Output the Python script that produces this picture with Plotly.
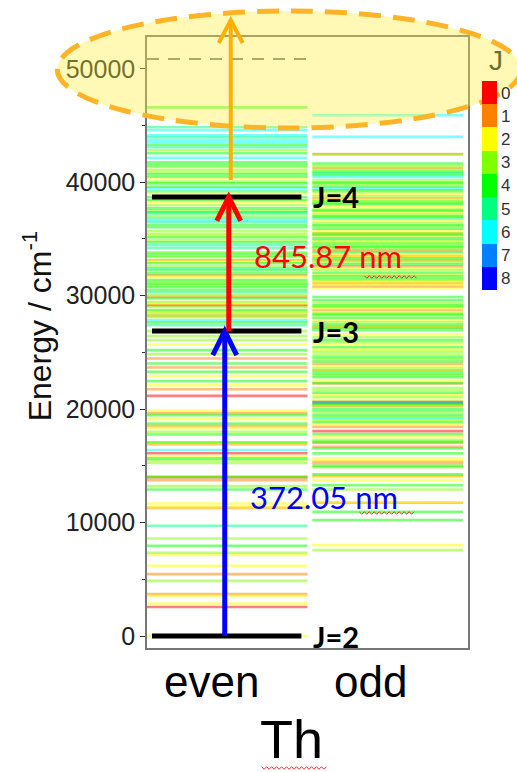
import plotly.graph_objects as go

# ---------------------------------------------------------------- data
# Th I energy levels (cm^-1) and total angular momentum J, by parity
EVEN_E = [0, 2558, 2869, 3550, 3700, 4870, 5460, 6190, 7140, 7340, 7960, 8600,
          9720, 11300, 11350, 11690, 12925, 13215, 13745, 14000, 14035, 14080,
          15270, 15505, 15660, 15860, 16120, 16390, 16920, 17000, 17090, 17770,
          18000, 18350, 18530, 18740, 19120, 19470, 19650, 19850,
          21170, 21760, 22110, 22470, 22910, 23290, 23670, 24030, 24470, 24850,
          25200, 25700, 26080, 26450, 26878,
          27400, 27650, 27840, 28110, 28250, 28430, 28600, 28720, 28990, 29160,
          29300, 29430, 29780, 29900, 30040, 30300, 30500, 30750, 30900, 31050,
          31200, 31370, 31630, 31800, 31980, 32250, 32420, 32600, 32860, 33000,
          33130, 33390, 33550, 33700, 33830, 34190, 34450, 34700, 34900, 35150,
          35300, 35450, 35700, 36040, 36200, 36480, 36650, 36850, 37050, 37270,
          37350, 37500, 37700, 37970, 38270, 38450, 38700, 39030, 39200, 39470,
          39600, 39900, 40050, 40350, 40500, 40700, 40880, 41060, 41320, 41500,
          41600, 41760, 42150, 42550, 42820, 43080, 43300, 43520, 43700, 43950,
          44140, 44580, 44840, 46600]
EVEN_J = [2, 0, 2, 2, 1, 3, 1, 2, 2, 3, 4, 3,
          5, 1, 2, 2, 4, 3, 1, 0, 4, 2,
          3, 3, 4, 2, 0, 6, 1, 2, 4, 4,
          3, 2, 1, 4, 2, 4, 1, 2,
          0, 1, 2, 4, 2, 4, 1, 4, 1, 3,
          4, 2, 3, 3, 3,
          5, 4, 6, 3, 1, 3, 2, 4, 3, 0,
          2, 3, 4, 1, 3, 5, 4, 4, 3, 4,
          3, 4, 2, 1, 4, 4, 5, 3, 4, 2,
          1, 3, 4, 4, 3, 5, 5, 4, 3, 4,
          2, 3, 3, 4, 4, 5, 6, 5, 3, 5,
          4, 3, 4, 3, 2, 4, 4, 2, 5, 6,
          4, 4, 3, 2, 4, 4, 3, 3, 3, 4,
          4, 4, 6, 4, 3, 5, 4, 6, 6, 5,
          6, 6, 5, 4]

ODD_E = [7577, 8020, 10220, 10950, 11745, 11800, 12925, 13300, 13745, 14040,
         14100, 14250, 14890, 15000, 15240, 15360, 15505, 15660, 16100, 16535,
         16680, 17030, 17120, 17270, 17530, 17800, 18060, 18440, 18680, 18880,
         19030, 19180, 19300, 19470, 19710, 19900, 20000, 20260, 20350, 20440,
         20480, 20620, 20640, 20800, 21060, 21250, 21450, 21670, 22260, 22300,
         22820, 23000, 23400, 23450, 23800, 24200, 24580, 24800, 25050, 25460,
         25700, 25900, 26100, 26340, 26600, 26960, 27220, 27250, 27450, 27660,
         27850, 28050, 28280, 28500, 28720, 28850, 28990, 29150, 29340, 29600,
         29870, 30660, 30800, 30950, 31100, 31370, 31550, 31800, 32000, 32250,
         32400, 32600, 32750, 32900, 33120, 33300, 33500, 33650, 33850, 34000,
         34160, 34400, 34600, 34890, 35050, 35250, 35480, 35500, 35700, 35900,
         36210, 36400, 36600, 36800, 37000, 37200, 37390, 37600, 37800, 38060,
         38300, 38560, 38750, 38940, 39150, 39440, 39600, 39800, 39940, 40200,
         40470, 40650, 40910, 41260, 41450, 41650, 42470, 42480, 44000, 45900,
         21850, 22500, 23150, 23600, 24000, 24400, 25250, 27050, 28400, 29000,
         31250, 31700, 33000, 33400, 34300, 34750, 35350, 36100, 36950, 37500,
         38150, 38450, 39300, 40050, 40800, 41100]
ODD_J = [3, 2, 4, 4, 1, 2, 3, 4, 2, 2,
         1, 4, 3, 4, 1, 1, 2, 2, 4, 4,
         1, 1, 4, 3, 2, 4, 0, 1, 2, 4,
         2, 6, 3, 4, 3, 4, 4, 1, 3, 1,
         4, 7, 1, 2, 3, 2, 4, 3, 1, 4,
         4, 3, 1, 3, 2, 4, 4, 3, 3, 4,
         2, 3, 4, 3, 2, 4, 1, 3, 4, 3,
         2, 4, 3, 2, 1, 2, 2, 4, 3, 4,
         4, 2, 1, 2, 1, 3, 4, 2, 4, 3,
         2, 1, 4, 3, 1, 4, 1, 2, 4, 1,
         3, 3, 4, 3, 4, 2, 1, 3, 2, 4,
         4, 3, 2, 5, 4, 3, 2, 3, 2, 4,
         4, 1, 3, 2, 3, 6, 4, 3, 4, 3,
         6, 4, 4, 1, 3, 4, 3, 1, 6, 6,
         3, 2, 4, 3, 1, 3, 2, 4, 4, 3,
         2, 4, 3, 2, 4, 2, 4, 3, 3, 4,
         3, 2, 4, 3, 5, 3]

J_VALUES = list(range(9))
J_COLORS = ["#FF0000", "#FF8000", "#FFFF00", "#80FF00", "#00FF00",
            "#00FF80", "#00FFFF", "#0080FF", "#0000FF"]

# three-step excitation scheme
LAMBDA_1_NM = 372.05
LAMBDA_2_NM = 845.87
J_STEPS = [2, 3, 4]
IONIZATION_LIMIT = 50867
E_GROUND = 0.0
E_STEP1 = E_GROUND + 1e7 / LAMBDA_1_NM
E_STEP2 = E_STEP1 + 1e7 / LAMBDA_2_NM
STEP_ENERGIES = [E_GROUND, E_STEP1, E_STEP2]
E_THIRD_START = 40200
E_THIRD_END = 54300

Y_TICKS = [0, 10000, 20000, 30000, 40000, 50000]
Y_RANGE = [-1050, 52800]

# ---------------------------------------------------------------- geometry
W, H = 517, 772
ML, MR, MT, MB = 147, 48, 37, 124
PW, PH = W - ML - MR, H - MT - MB
EVEN_X = (0.0, 0.5)
ODD_X = (0.515, 0.985)
STEP_X = (0.0155, 0.481)
FONT_AX = "Liberation Sans, Arial, sans-serif"
FONT_TXT = "Lato, Carlito, sans-serif"


def px_x(px):
    return (px - ML) / PW


def px_y(py):
    return (H - MB - py) / PH


def e_to_paper(e):
    return (e - Y_RANGE[0]) / (Y_RANGE[1] - Y_RANGE[0])


fig = go.Figure()

# coloured level lines, one trace per parity and J
for energies, js, (x0, x1) in [(EVEN_E, EVEN_J, EVEN_X), (ODD_E, ODD_J, ODD_X)]:
    for j in J_VALUES:
        xs, ys = [], []
        for e, jj in zip(energies, js):
            if jj == j:
                xs += [x0, x1, None]
                ys += [e, e, None]
        if xs:
            fig.add_trace(go.Scatter(x=xs, y=ys, mode="lines",
                                     line=dict(color=J_COLORS[j], width=2.6),
                                     opacity=0.5, hoverinfo="skip",
                                     showlegend=False))

# ionisation limit
fig.add_trace(go.Scatter(x=[EVEN_X[0], EVEN_X[1]], y=[IONIZATION_LIMIT] * 2,
                         mode="lines", line=dict(color="#555555", width=1.5,
                                                 dash="12px,9px"),
                         hoverinfo="skip", showlegend=False))

# levels of the excitation scheme
for e in STEP_ENERGIES:
    fig.add_trace(go.Scatter(x=list(STEP_X), y=[e, e], mode="lines",
                             line=dict(color="black", width=5),
                             hoverinfo="skip", showlegend=False))

# J colour scale
n = len(J_COLORS)
cscale = []
for k, col in enumerate(reversed(J_COLORS)):
    cscale += [[k / n, col], [(k + 1) / n, col]]
fig.add_trace(go.Scatter(
    x=[None], y=[None], mode="markers", showlegend=False, hoverinfo="skip",
    marker=dict(color=[0], cmin=-max(J_VALUES) - 0.5, cmax=0.5,
                colorscale=cscale, showscale=True,
                colorbar=dict(x=px_x(482), xanchor="left", y=px_y(185.5),
                              yanchor="middle", len=209, lenmode="pixels",
                              thickness=15, outlinewidth=0, ticks="",
                              tickvals=[-j for j in J_VALUES],
                              ticktext=[str(j) for j in J_VALUES],
                              tickfont=dict(family=FONT_AX, size=17,
                                            color="#333333"),
                              ypad=0, xpad=0))))

shapes = []
# arrows: shaft + open chevron head
AX_DX = 12 / PW
AX_DY_E = 24 / PH * (Y_RANGE[1] - Y_RANGE[0])


def arrow(x, e0, e1, color, width):
    shapes.append(dict(type="line", xref="x", yref="y", x0=x, x1=x,
                       y0=e0, y1=e1, line=dict(color=color, width=width)))
    shapes.append(dict(type="path", xref="x", yref="y",
                       path=f"M {x - AX_DX},{e1 - AX_DY_E} L {x},{e1} "
                            f"L {x + AX_DX},{e1 - AX_DY_E}",
                       line=dict(color=color, width=width)))


arrow(px_x(225), E_GROUND, E_STEP1, "#0000FF", 5)
arrow(px_x(229), E_STEP1, E_STEP2, "#FF0000", 5)

# highlighted ionisation region
shapes.append(dict(type="circle", xref="paper", yref="paper", layer="above",
                   x0=px_x(57), x1=px_x(522), y0=px_y(128), y1=px_y(11),
                   fillcolor="rgba(255,240,60,0.38)",
                   line=dict(color="#FFB428", width=5, dash="22px,12px")))

# third step towards the continuum (extends above the frame)
xo = px_x(231)
ph_dy = 23 / PH
shapes.append(dict(type="line", xref="x", yref="paper", layer="above",
                   x0=xo, x1=xo, y0=e_to_paper(E_THIRD_START),
                   y1=e_to_paper(E_THIRD_END),
                   line=dict(color="#FFB000", width=4)))
pt = e_to_paper(E_THIRD_END)
shapes.append(dict(type="path", xref="x", yref="paper", layer="above",
                   path=f"M {xo - AX_DX},{pt - ph_dy} L {xo},{pt} "
                        f"L {xo + AX_DX},{pt - ph_dy}",
                   line=dict(color="#FFB000", width=4)))


# spell-check squiggles under some words
def squiggle(px0, px1, py, step=2.5, amp=1.3):
    pts = []
    x = px0
    k = 0
    while x <= px1:
        yy = py + (amp if k % 2 else -amp)
        pts.append(f"{px_x(x)},{px_y(yy)}")
        x += step
        k += 1
    shapes.append(dict(type="path", xref="paper", yref="paper",
                       path="M " + " L ".join(pts),
                       line=dict(color="#E83030", width=1)))


squiggle(365, 418, 277)
squiggle(360, 415, 513)
squiggle(262, 328, 768)


def label(px, py, text, size, color, family=FONT_AX, xanchor="center",
          angle=0, yanchor="middle"):
    return dict(x=px_x(px), y=px_y(py), xref="paper", yref="paper",
                text=text, showarrow=False, xanchor=xanchor,
                yanchor=yanchor, textangle=angle,
                font=dict(family=family, size=size, color=color))


annotations = []
for e, j in zip(STEP_ENERGIES, J_STEPS):
    annotations.append(dict(x=px_x(312), y=e, xref="paper", yref="y",
                            text=f"<b>J={j}</b>", showarrow=False,
                            xanchor="left", yanchor="middle",
                            font=dict(family=FONT_TXT, size=29, color="black")))

annotations.append(dict(x=px_x(252), y=(E_STEP1 + E_STEP2) / 2 + 700,
                        xref="paper", yref="y", text=f"{LAMBDA_2_NM:.2f} nm",
                        showarrow=False, xanchor="left", yanchor="middle",
                        font=dict(family=FONT_TXT, size=31, color="#FF0000")))
annotations.append(label(248, 497, f"{LAMBDA_1_NM:.2f} nm", 31, "#0000FF",
                         family=FONT_TXT, xanchor="left"))

# category labels and axis titles
annotations.append(label(212, 681, "even", 44, "black"))
annotations.append(label(371, 681, "odd", 44, "black"))
annotations.append(label(292, 771, "Th", 54, "black", yanchor="bottom"))
annotations.append(label(37, 326, "Energy / cm<sup>-1</sup>", 32, "#111111",
                         angle=-90))
annotations.append(label(497, 60, "J", 28, "#6E6E2E"))

fig.update_layout(
    width=W, height=H, margin=dict(l=ML, r=MR, t=MT, b=MB),
    paper_bgcolor="white", plot_bgcolor="white",
    showlegend=False, shapes=shapes, annotations=annotations,
    xaxis=dict(range=[0, 1], showticklabels=False, ticks="", showgrid=False,
               zeroline=False, showline=True, linecolor="#777777",
               linewidth=1.5, mirror=True, fixedrange=True),
    yaxis=dict(range=Y_RANGE, tickvals=Y_TICKS,
               ticktext=[str(t) for t in Y_TICKS], ticks="outside", ticklen=5,
               tickwidth=1.2, tickcolor="#333333", showgrid=False,
               zeroline=False, showline=True, linecolor="#777777",
               linewidth=1.5, mirror=True,
               minor=dict(dtick=5000, tick0=0, ticks="outside", ticklen=3,
                          tickcolor="#333333"),
               tickfont=dict(family=FONT_AX, size=25, color="#222222")),
    yaxis2=dict(range=Y_RANGE, overlaying="y", side="right", tickvals=Y_TICKS,
                ticks="inside", ticklen=5, tickcolor="#333333",
                showticklabels=False, showgrid=False, zeroline=False,
                minor=dict(dtick=5000, tick0=0, ticks="inside", ticklen=3,
                           tickcolor="#333333")),
)

fig.write_html("out.html")
